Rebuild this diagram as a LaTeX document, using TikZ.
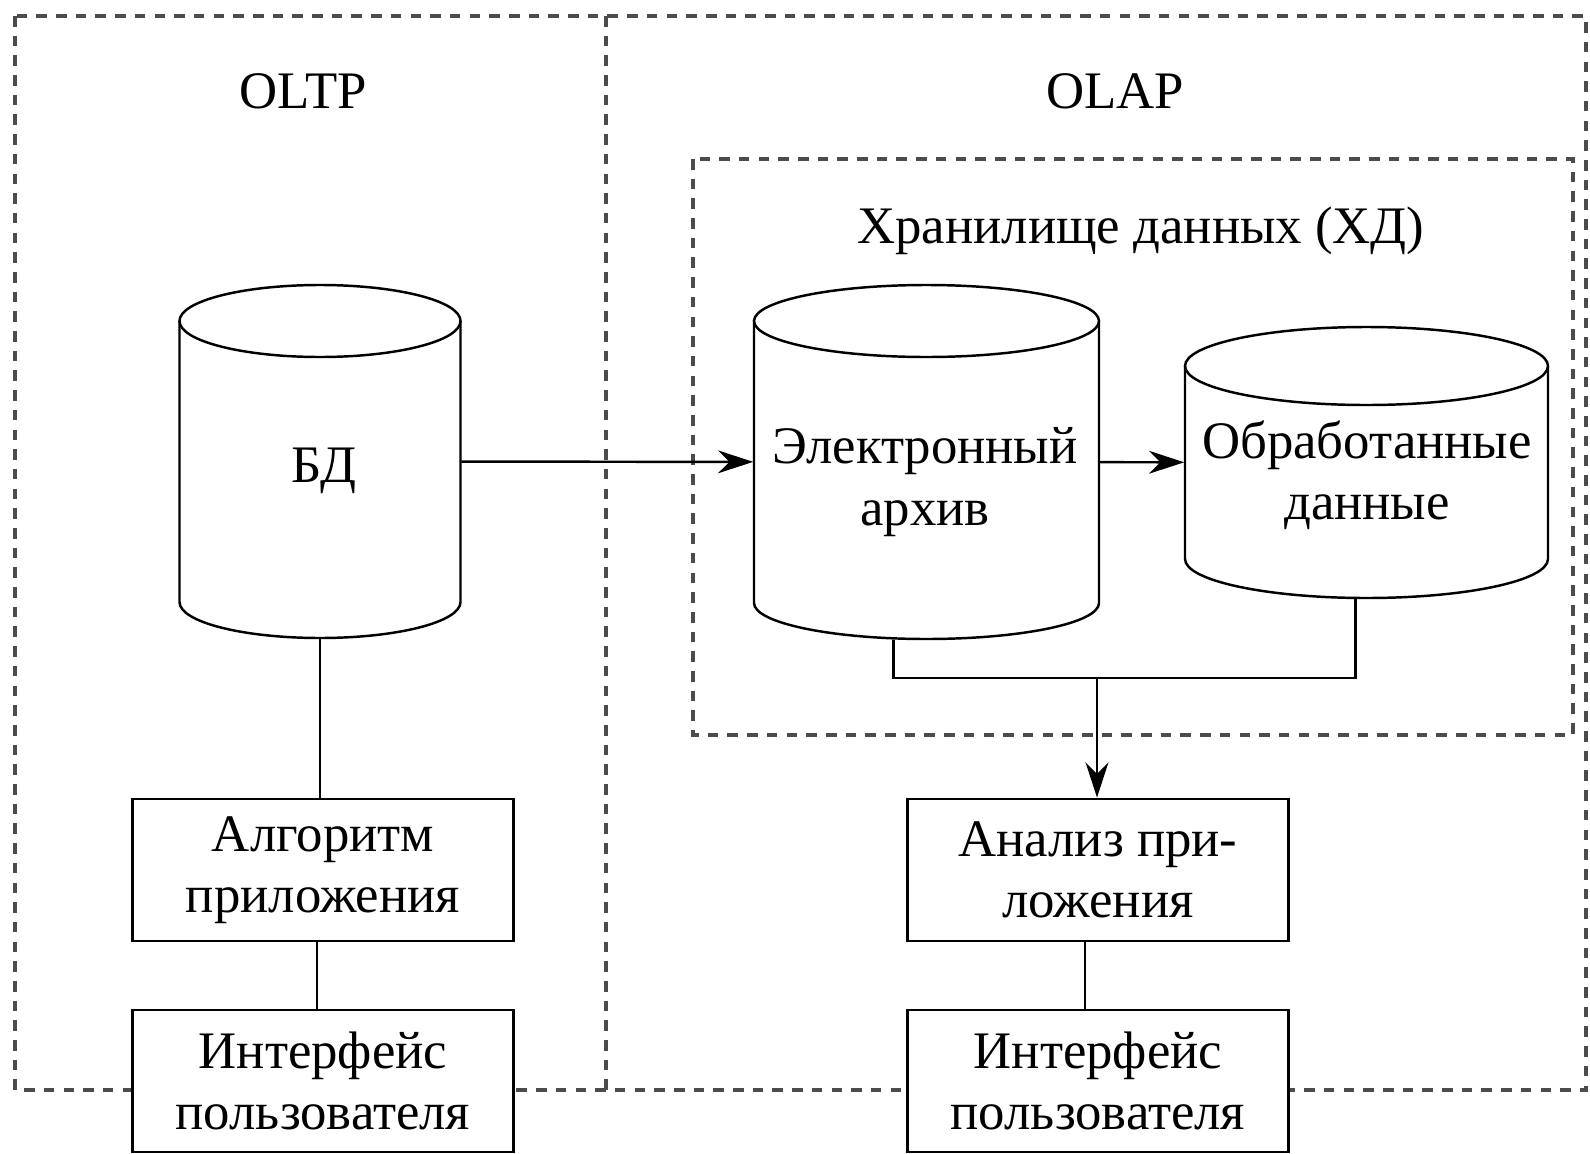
\documentclass[tikz,border=0pt]{standalone}
\usepackage{fontspec}
\setmainfont{Liberation Serif}
\usetikzlibrary{arrows.meta}
\newcommand{\lbl}{\fontsize{15}{17.5}\selectfont}
% cylinder outline: centre x, centre y, half width, half height, cap radius
\newcommand{\dbshape}[5]{%
  \draw[link] ({#1},{#2-#4+#5}) ellipse [x radius={#3*0.01cm}, y radius={#5*0.01cm}];
  \draw[link] ({#1-#3},{#2-#4+#5}) -- ({#1-#3},{#2+#4-#5})
    arc [start angle=180, end angle=360, x radius={#3*0.01cm}, y radius={#5*0.01cm}]
    -- ({#1+#3},{#2-#4+#5});
}

\tikzset{
  frame/.style={draw=black!70, line width=0.9pt, dash pattern=on 3pt off 2.6pt},
  title/.style={font=\lbl},
  db/.style={inner sep=0pt},
  dbtext/.style={align=center, font=\lbl, inner sep=0pt},
  box/.style={draw, fill=white, line width=0.8pt, minimum width=3.81cm, minimum height=1.42cm, inner sep=0pt, align=center, font=\lbl},
  link/.style={line width=0.7pt},
  arr/.style={line width=0.7pt, -{Stealth[length=10pt, width=6.5pt]}},
}

\begin{document}
\begin{tikzpicture}[x=0.01cm, y=-0.01cm]
\useasboundingbox (0,0) rectangle (1590,1154);

% frames
\draw[frame] (15,16) rectangle (1586,1090);
\draw[frame] (606,16) -- (606,1090);
\draw[frame] (693,159) rectangle (1573,735);
\node[title] (oltp) at (303,91) {OLTP};
\node[title] (olap) at (1115,91) {OLAP};
\node[title] (dw) at (1141,231) {Хранилище данных (ХД)};

% databases
\node[db, minimum width=2.81cm, minimum height=3.53cm] (bd) at (320,461.5) {};
\dbshape{320}{461.5}{140.5}{176.5}{36}
\node[dbtext] (bd-t) at (324,471) {БД};
\node[db, minimum width=3.45cm, minimum height=3.54cm] (arch) at (926.5,462) {};
\dbshape{926.5}{462}{172.5}{177}{36}
\node[dbtext] (arch-t) at (925,482) {Электронный\\архив};
\node[db, minimum width=3.63cm, minimum height=2.71cm] (proc) at (1366.5,462.5) {};
\dbshape{1366.5}{462.5}{181.5}{135.5}{39}
\node[dbtext] (proc-t) at (1367,475) {Обработанные\\данные};

% boxes
\node[box] (algo) at (323,870) {Алгоритм\\приложения};
\node[box] (ui1) at (323,1081) {Интерфейс\\пользователя};
\node[box] (ana) at (1098,870) {Анализ при-\\ложения};
\node[box] (ui2) at (1098,1081) {Интерфейс\\пользователя};

% connectors
\draw[arr] (bd) -- (arch);
\draw[arr] (arch) -- (proc);
\draw[link] (bd.south) -- (bd.south |- algo.north);
\draw[link] ([xshift=-0.06cm]algo.south) -- ([xshift=-0.06cm]ui1.north);
\coordinate (join) at (1097,678);
\draw[link] ([xshift=-0.33cm]arch.south) |- (join) -| ([xshift=-0.11cm]proc.south);
\draw[arr] (join) -- (join |- ana.north);
\draw[link] ([xshift=-0.13cm]ana.south) -- ([xshift=-0.13cm]ui2.north);

\end{tikzpicture}
\end{document}
